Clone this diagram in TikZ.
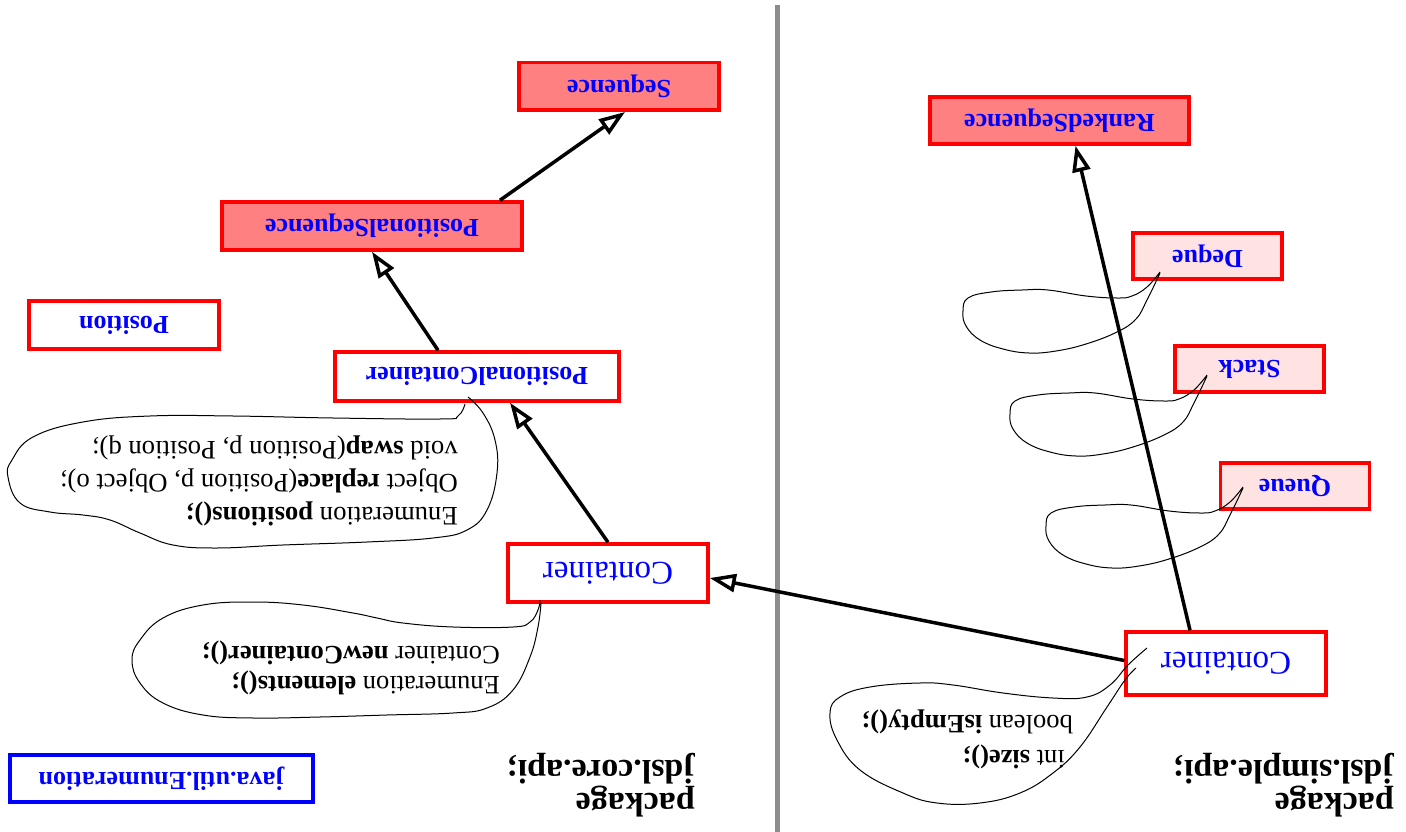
\documentclass[tikz,border=0pt]{standalone}
\usepackage{fontspec}
\setmainfont{Liberation Serif}
\usetikzlibrary{arrows.meta}
\definecolor{salmon}{HTML}{FF8080}
\definecolor{blush}{HTML}{FFE2E2}
\definecolor{divider}{HTML}{8C8C8C}
\newcommand{\flip}[1]{\rotatebox[origin=c]{180}{#1}}
\tikzset{
	klass/.style={draw=red, line width=3.5pt, fill=white, inner sep=0pt, text=blue, font=\fontsize{26}{30}\selectfont\bfseries},
	iface/.style={klass, fill=salmon},
	adt/.style={klass, fill=blush},
	note/.style={line width=1pt},
	notetext/.style={anchor=east, inner sep=0pt},
	inherit/.style={line width=3.5pt, -{Triangle[open, length=26pt, width=18pt]}},
}
\begin{document}
\begin{tikzpicture}[x=1pt, y=-1pt]
	\useasboundingbox (0,0) rectangle (1406,832);
	\draw[divider, line width=5pt] (777.5,5) -- (777.5,832);
	% package jdsl.core.api
	\node[iface, minimum width=200pt, minimum height=47.5pt] (seq) at (619,86.5) {\flip{Sequence}};
	\node[iface, minimum width=300pt, minimum height=48pt] (psq) at (372,226) {\flip{PositionalSequence}};
	\node[klass, minimum width=190pt, minimum height=48pt] (pos) at (124,325) {\flip{Position}};
	\node[klass, minimum width=284pt, minimum height=49pt] (pc) at (477,376.5) {\flip{PositionalContainer}};
	\node[klass, minimum width=200pt, minimum height=58pt, font=\fontsize{33}{33}\selectfont] (lc) at (608,573) {\flip{Container}};
	\node[klass, draw=blue, minimum width=303pt, minimum height=47pt] (jav) at (161.5,778.5) {\flip{java.util.Enumeration}};
	% package jdsl.simple.api
	\node[iface, minimum width=259pt, minimum height=47pt] (rs) at (1059.5,120.5) {\flip{RankedSequence}};
	\node[adt, minimum width=149pt, minimum height=46pt] (dq) at (1207.5,256) {\flip{Deque}};
	\node[adt, minimum width=149pt, minimum height=46pt] (st) at (1249.5,369) {\flip{Stack}};
	\node[adt, minimum width=149pt, minimum height=46pt] (qu) at (1295,486) {\flip{Queue}};
	\node[klass, minimum width=200pt, minimum height=63pt, font=\fontsize{33}{33}\selectfont] (rc) at (1226,663.5) {\flip{Container}};
	% inheritance
	\draw[inherit] (lc.north) -- ([xshift=33pt]pc.south);
	\draw[inherit] ([xshift=-39pt]pc.north) -- (psq.south);
	\draw[inherit] ([xshift=128pt]psq.north) -- ([xshift=6pt]seq.south);
	\draw[inherit] ([yshift=3pt]rc.west) -- ([yshift=-5pt]lc.east);
	\draw[inherit] ([xshift=-36pt]rc.north) -- ([xshift=16pt]rs.south);
	% callouts
	\draw[note] plot[smooth, tension=0.7] coordinates {(465,404) (458,416) (440,419) (333,418) (233,416) (150,416) (83,422) (33,437) (12,460) (8,477) (20,503) (50,512) (83,515) (110,520) (140,533) (173,545) (217,548) (283,545) (367,542) (433,538) (467,530) (487,510) (497,473) (495,440) (483,413) (468,397)};
	\draw[note] plot[smooth, tension=0.7] coordinates {(540,600) (538,610) (530,622) (513,627) (453,627) (403,623) (377,618) (353,613) (303,605) (253,602) (203,605) (163,618) (140,640) (132,660) (140,683) (163,703) (203,715) (253,718) (320,717) (387,715) (453,713) (487,708) (513,690) (530,657) (538,627) (541,603)};
	\foreach \dx/\dy in {0/0, 47/103, 83/215}
		\draw[note, shift={(\dx,\dy)}] plot[smooth, tension=0.7] coordinates {(1160,272) (1147,287) (1132,296) (1117,298) (1086,296) (1048,290) (1022,290) (991,292) (968,298) (963,311) (966,326) (980,340) (1003,349) (1029,353) (1056,351) (1086,344) (1117,332) (1136,319) (1147,300) (1160,273)};
	\draw[note] plot[smooth, tension=0.7] coordinates {(1147,648) (1128,665) (1110,685) (1087,697) (1053,698) (1003,693) (953,685) (920,683) (870,687) (840,697) (830,713) (837,740) (860,770) (903,793) (937,803) (980,803) (1020,793) (1053,773) (1080,747) (1107,707) (1125,680) (1136,668)};
	\node[notetext, font=\fontsize{26.7}{33}\selectfont] (pcops) at (458,481) {\flip{\begin{tabular}{@{}l@{}}Enumeration \textbf{positions();}\\ Object \textbf{replace}(Position p, Object o);\\ void \textbf{swap}(Position p, Position q);\end{tabular}}};
	\node[notetext, font=\fontsize{26.5}{30}\selectfont] (lcops) at (500,667) {\flip{\begin{tabular}{@{}l@{}}Enumeration \textbf{elements();}\\ Container \textbf{newContainer();}\end{tabular}}};
	\node[notetext, font=\fontsize{26.5}{35}\selectfont] (rcops) at (1073,740) {\flip{\begin{tabular}{@{}l@{}}\hspace*{8pt}int \textbf{size();}\\ boolean \textbf{isEmpty();}\end{tabular}}};
	% package names
	\node[notetext, font=\fontsize{34}{32}\selectfont\bfseries] (corepkg) at (695,784) {\flip{\begin{tabular}{@{}l@{}}package\\ jdsl.core.api;\end{tabular}}};
	\node[notetext, font=\fontsize{34}{32}\selectfont\bfseries] (simplepkg) at (1394,784) {\flip{\begin{tabular}{@{}l@{}}package\\ jdsl.simple.api;\end{tabular}}};
\end{tikzpicture}
\end{document}
